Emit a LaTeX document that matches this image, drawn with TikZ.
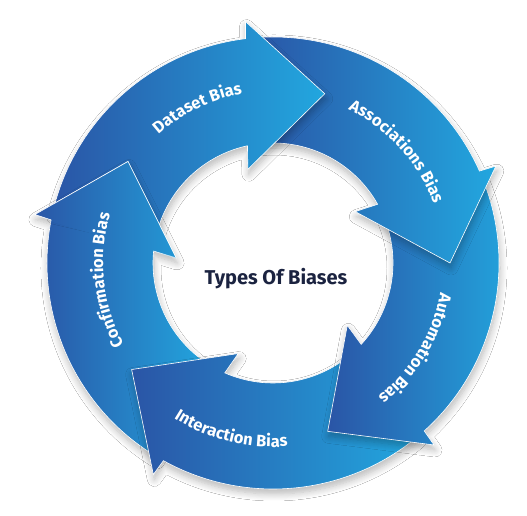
\documentclass[tikz,border=0pt]{standalone}
\usepackage{fontspec}
\setmainfont{Fira Sans}
\usetikzlibrary{decorations.text,shadows.blur}

\definecolor{biasdark}{HTML}{2A55A6}
\definecolor{biaslight}{HTML}{22A7DF}
\definecolor{biastitle}{HTML}{1B2340}

% one arrow of the ring: #1 = angle of its tip, #2 = tip angle of the arrow before it
\newcommand{\biasarrow}[2]{(#2+22:226) arc[start angle=#2+22, end angle=#1+24, radius=226]
  -- (#1+23.5:243) -- (#1:177) -- (#1+32:97) -- (#1+29.3:120)
  arc[start angle=#1+29.3, end angle=#2+22, radius=120] -- cycle}

\tikzset{
  arrowshade/.style={left color=biasdark, right color=biaslight, draw=white, line width=0.6pt},
  arrowshadow/.style={blur shadow={shadow xshift=1pt, shadow yshift=-5pt, shadow blur radius=7pt, shadow blur steps=8, shadow opacity=28}},
  biaslabel/.style={decorate, decoration={text along path, text align=center,
    text={|\fontsize{16.5}{19}\bfseries\color{white}|#1}}}
}

\begin{document}
\begin{tikzpicture}[x=1pt,y=1pt]
\useasboundingbox (0,0) rectangle (527,516);
\fill[white] (0,0) rectangle (527,516);
\begin{scope}[shift={(273,253)}]

% each head lies over the tail of the next arrow
\shade[arrowshadow, arrowshade] \biasarrow{-215}{-143};
\shade[arrowshadow, arrowshade] \biasarrow{-143}{-72};
\shade[arrowshadow, arrowshade] \biasarrow{-72}{0};
\shade[arrowshadow, arrowshade] \biasarrow{0}{73};
\shade[arrowshadow, arrowshade] \biasarrow{73}{145};

% confirmation head over the tail of the dataset arrow
\begin{scope}
\clip \biasarrow{73}{145};
\shade[arrowshadow, arrowshade] \biasarrow{-215}{-143};
\end{scope}
\begin{scope}
\clip (-191:247) -- (-216:181) -- (-182.5:93) -- cycle;
\shade[arrowshade] \biasarrow{-215}{-143};
\end{scope}

\path[biaslabel=Dataset Bias] (156:172) arc[start angle=156, end angle=76, radius=172];
\path[biaslabel=Associations Bias] (82:171) arc[start angle=82, end angle=2, radius=171];
\path[biaslabel=Automation Bias] (9:170) arc[start angle=9, end angle=-71, radius=170];
\path[biaslabel=Interaction Bias] (-144:184) arc[start angle=-144, end angle=-64, radius=184];
\path[biaslabel=Confirmation Bias] (226:170) arc[start angle=226, end angle=146, radius=170];

\node[font=\fontsize{20}{24}\bfseries, text=biastitle] (title) at (3,-16) {Types Of Biases};

\end{scope}
\end{tikzpicture}
\end{document}
